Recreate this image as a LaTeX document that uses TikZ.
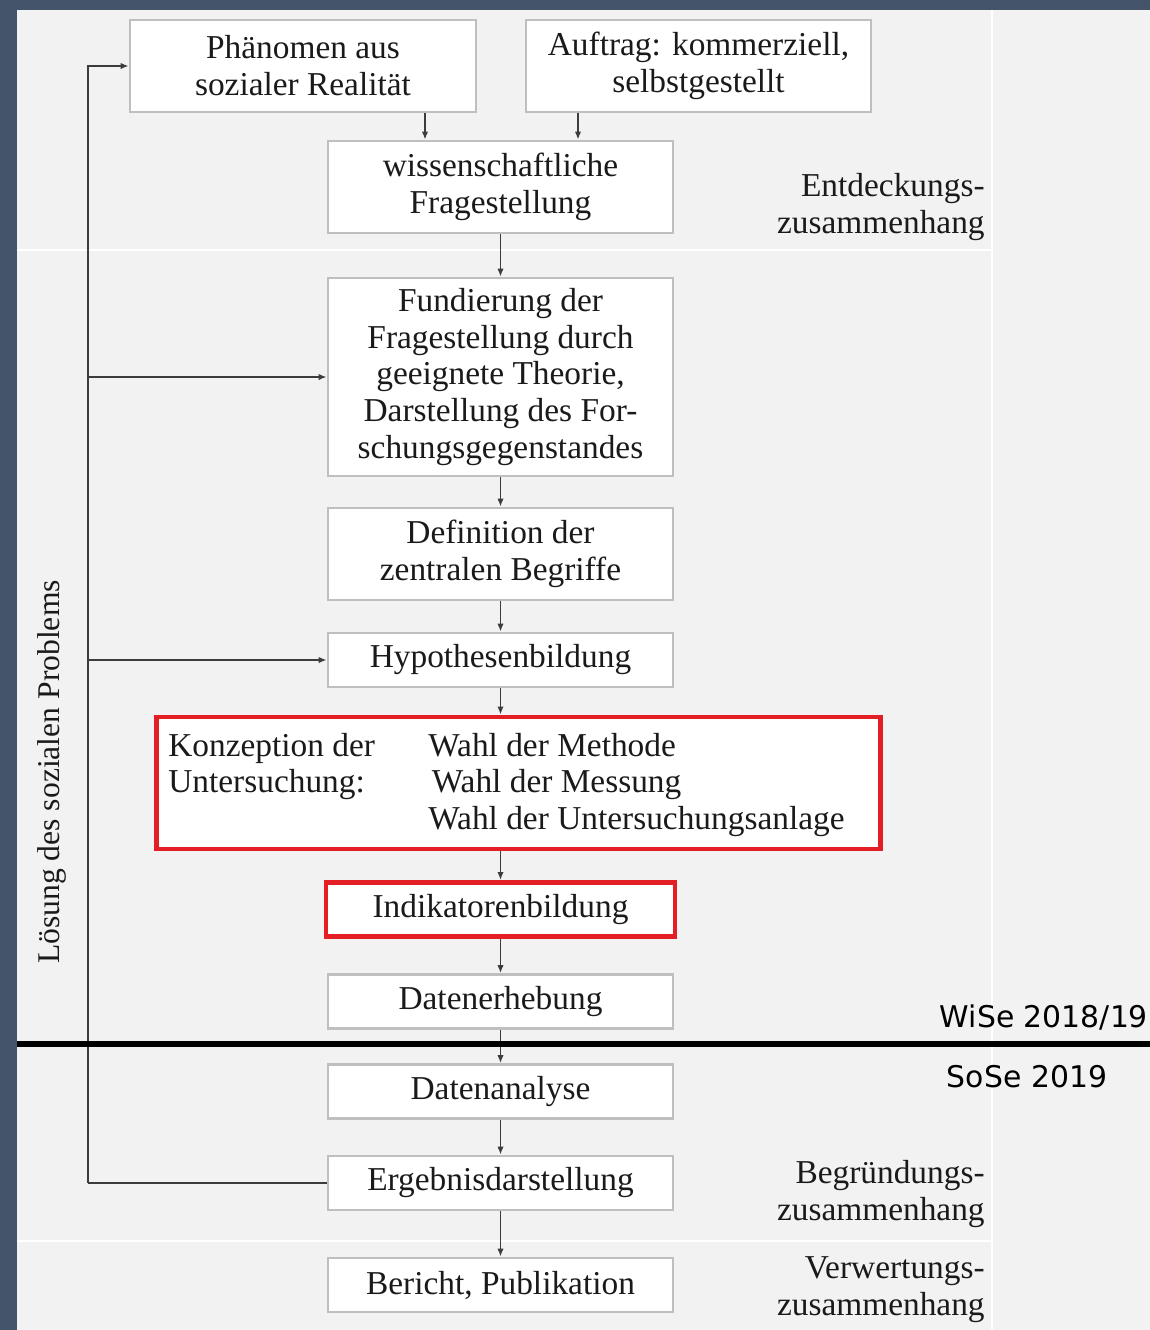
\documentclass[tikz,border=0pt]{standalone}
\usepackage{fontspec}
\setmainfont{Liberation Serif}
\newfontfamily\semfont{DejaVu Sans}
\usetikzlibrary{arrows.meta}
\definecolor{cFrame}{HTML}{44546B}
\definecolor{cPanel}{HTML}{F2F2F2}
\definecolor{cBoxBorder}{HTML}{BFBFBF}
\definecolor{cMark}{HTML}{E31E24}
\definecolor{cInk}{HTML}{1A1A1A}
\tikzset{
  stepBox/.style={draw=cBoxBorder, fill=white, line width=1.6pt, text=cInk,
                  font=\fontsize{19}{21}\selectfont, align=center, inner sep=0pt,
                  minimum width=6.9cm, minimum height=1.08cm},
  markBox/.style={stepBox, draw=cMark, line width=2.8pt},
  flow/.style={draw=cInk!85, line width=0.9pt, -{Latex[length=4.5pt,width=3.6pt]}},
  rail/.style={draw=cInk!85, line width=0.9pt},
  plainTxt/.style={font=\fontsize{19}{21}\selectfont, text=cInk, inner sep=0pt},
  ctxLbl/.style={plainTxt, align=right, anchor=east},
  semLbl/.style={font=\semfont\fontsize{17}{20}\selectfont, text=black, inner sep=0pt},
}

\begin{document}
\begin{tikzpicture}[x=0.02cm, y=-0.02cm]

% ========== BACKGROUND ==========
\useasboundingbox (0,0) rectangle (1150,1330);
\fill[cFrame] (0,0) rectangle (1150,1330);
\fill[cPanel] (17,10) rectangle (1150,1330);
\draw[white, line width=1.2pt] (17,250) -- (992,250);
\draw[white, line width=1.2pt] (17,1241) -- (992,1241);
\draw[white, line width=1pt] (992,10) -- (992,1330);

% ========== STEPS ==========
\node[stepBox, minimum width=6.92cm, minimum height=1.84cm] (phaen) at (303,66)
  {Phänomen aus\\sozialer Realität};
\node[stepBox, minimum height=1.84cm] (auftrag) at (698.5,66)
  {Auftrag: kommerziell,\\selbstgestellt};
\node[stepBox, minimum height=1.84cm] (frage) at (500.5,187)
  {wissenschaftliche\\Fragestellung};
\node[stepBox, minimum height=3.96cm] (fund) at (500.5,377)
  {Fundierung der\\Fragestellung durch\\geeignete Theorie,\\Darstellung des For-\\schungsgegenstandes};
\node[stepBox, minimum height=1.84cm] (defin) at (500.5,554)
  {Definition der\\zentralen Begriffe};
\node[stepBox] (hypo) at (500.5,660) {Hypothesenbildung};

% conception block (marked)
\node[markBox, minimum width=14.5cm, minimum height=2.64cm] (konz) at (518.5,783) {};
\node[plainTxt, anchor=west, align=left] (konzL) at (168,766.5)
  {Konzeption der\\Untersuchung:};
\node[plainTxt, anchor=west, align=left] (konzR) at (428,785)
  {Wahl der Methode\\\hspace{2pt}Wahl der Messung\\Wahl der Untersuchungsanlage};

\node[markBox, minimum width=6.98cm] (indik) at (500.5,909.5) {Indikatorenbildung};
\node[stepBox] (erheb) at (500.5,1001.5) {Datenerhebung};
\node[stepBox] (analyse) at (500.5,1091.5) {Datenanalyse};
\node[stepBox] (ergeb) at (500.5,1183) {Ergebnisdarstellung};
\node[stepBox] (bericht) at (500.5,1285) {Bericht, Publikation};

% ========== ARROWS ==========
\coordinate (inL) at (425,187);
\coordinate (inR) at (578,187);
\draw[flow] (inL |- phaen.south) -- (inL |- frage.north);
\draw[flow] (inR |- auftrag.south) -- (inR |- frage.north);
\draw[flow] (frage) -- (fund);
\draw[flow] (fund) -- (defin);
\draw[flow] (defin) -- (hypo);
\draw[flow] (hypo.south) -- (hypo.south |- konz.north);
\draw[flow] (hypo.south |- konz.south) -- (indik.north);
\draw[flow] (indik) -- (erheb);
\draw[flow] (erheb) -- (analyse);
\draw[flow] (analyse) -- (ergeb);
\draw[flow] (ergeb) -- (bericht);

% feedback rail on the left
\coordinate (railB) at (88,1183);
\draw[rail] (ergeb.west) -- (railB);
\draw[flow] (railB) |- (phaen.west);
\draw[flow] (railB |- fund.west) -- (fund.west);
\draw[flow] (railB |- hypo.west) -- (hypo.west);

\node[plainTxt, font=\fontsize{18}{21}\selectfont, rotate=90] (loesung) at (52,772)
  {Lösung des sozialen Problems};

% ========== CONTEXT LABELS ==========
\node[ctxLbl] (entd) at (985,207) {Entdeckungs-\\zusammenhang};
\node[ctxLbl] (begr) at (985,1194) {Begründungs-\\zusammenhang};
\node[ctxLbl] (verw) at (985,1289.5) {Verwertungs-\\zusammenhang};

% ========== SEMESTER SPLIT ==========
\coordinate (splitL) at (17,1044);
\coordinate (splitR) at (1150,1044);
\draw[black, line width=3pt] (splitL) -- (splitR);
\node[semLbl] (wise) at (1044,1018) {WiSe 2018/19};
\node[semLbl] (sose) at (1027,1077) {SoSe 2019};

\end{tikzpicture}
\end{document}
